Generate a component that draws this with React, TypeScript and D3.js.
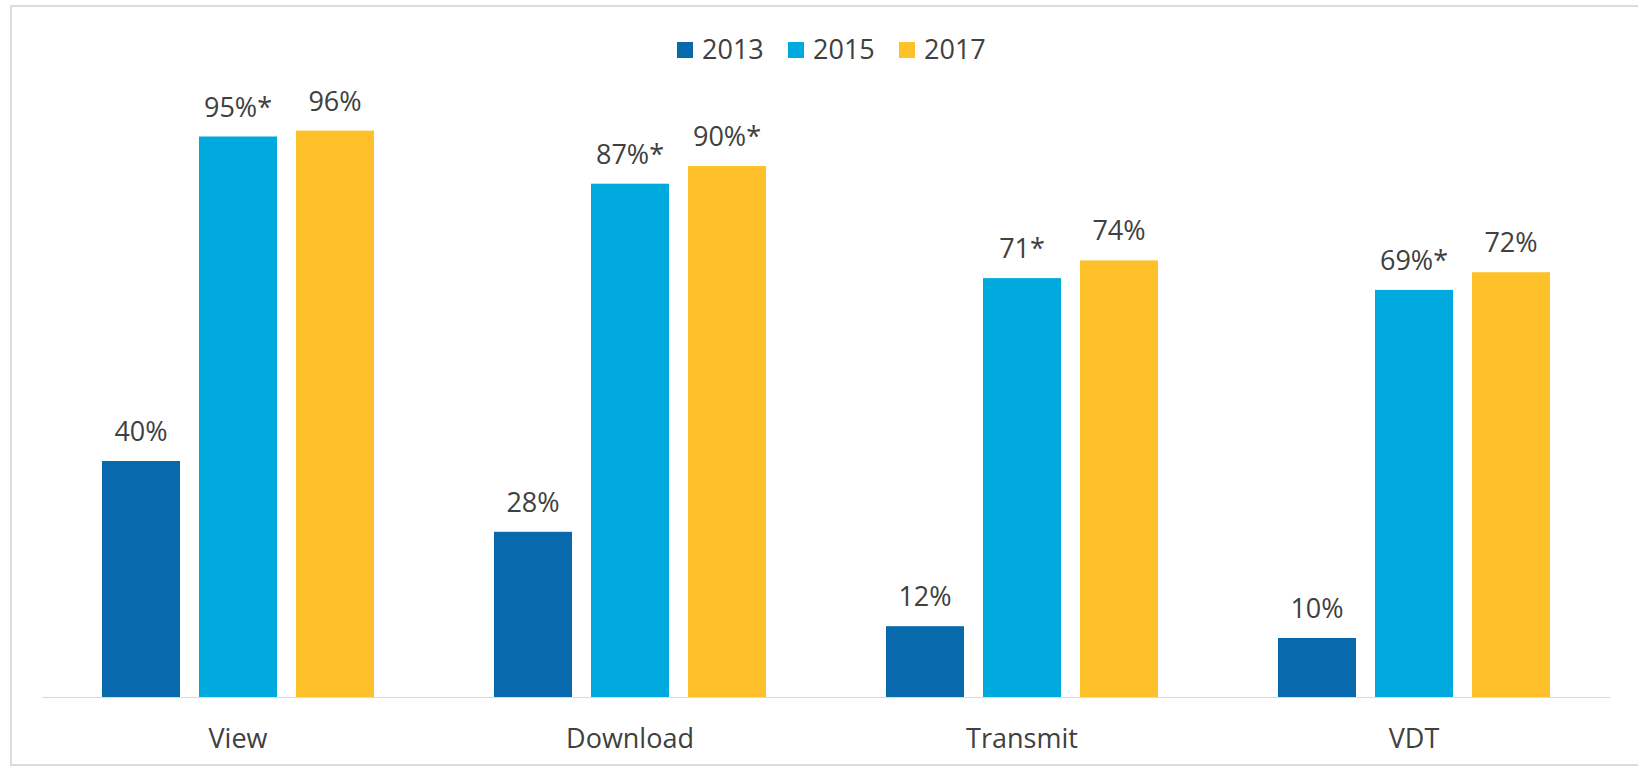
import React from "react";
import * as d3 from "d3";

const categories = ["View", "Download", "Transmit", "VDT"];
const seriesNames = ["2013", "2015", "2017"];
const values2013 = [40, 28, 12, 10];
const values2015 = [95, 87, 71, 69];
const values2017 = [96, 90, 74, 72];
const labels2013 = ["40%", "28%", "12%", "10%"];
const labels2015 = ["95%*", "87%*", "71*", "69%*"];
const labels2017 = ["96%", "90%*", "74%", "72%"];
const colors = ["#0869ad", "#00a9de", "#fec12a"];

const W = 1638;
const H = 768;
const FONT = "'Open Sans', 'Segoe UI', sans-serif";
const TEXT = "#404040";

export default function App() {
  const series = [values2013, values2015, values2017];
  const labels = [labels2013, labels2015, labels2017];
  const x0 = d3.scaleBand<string>().domain(categories).range([42, 1610]).paddingInner(0).paddingOuter(0);
  const x1 = d3
    .scaleBand<string>()
    .domain(seriesNames)
    .range([60, x0.bandwidth() - 60])
    .paddingInner(19 / 97)
    .paddingOuter(0);
  const y = d3.scaleLinear().domain([0, 100]).range([697, 107]);

  const legendX = d3.scaleLinear().domain([0, 1]).range([677, 788]);

  return (
    <div style={{ position: "absolute", left: 0, top: 0 }}>
      <svg width={W} height={H} style={{ display: "block", background: "#fff" }}>
        <rect x={11} y={6} width={1640} height={759} fill="#fff" stroke="#dcdcdc" strokeWidth={2} />
        <line x1={42} x2={1610} y1={697.5} y2={697.5} stroke="#d9d9d9" strokeWidth={1} />
        {categories.map((c, i) => (
          <g key={c} transform={`translate(${x0(c)},0)`}>
            {seriesNames.map((s, j) => {
              const v = series[j][i];
              const bx = x1(s)!;
              const bw = x1.bandwidth();
              return (
                <g key={s}>
                  <rect x={bx} y={y(v)} width={bw} height={y(0) - y(v)} fill={colors[j]} />
                  <text
                    x={bx + bw / 2}
                    y={y(v) - 20}
                    textAnchor="middle"
                    fontFamily={FONT}
                    fontSize={27}
                    fill={TEXT}
                  >
                    {labels[j][i]}
                  </text>
                </g>
              );
            })}
            <text
              x={x0.bandwidth() / 2}
              y={748}
              textAnchor="middle"
              fontFamily={FONT}
              fontSize={27}
              fill={TEXT}
            >
              {c}
            </text>
          </g>
        ))}
        {seriesNames.map((s, j) => (
          <g key={s} transform={`translate(${legendX(j)},0)`}>
            <rect x={0} y={42} width={16} height={16} fill={colors[j]} />
            <text x={25} y={59} fontFamily={FONT} fontSize={27} fill={TEXT}>
              {s}
            </text>
          </g>
        ))}
      </svg>
    </div>
  );
}
